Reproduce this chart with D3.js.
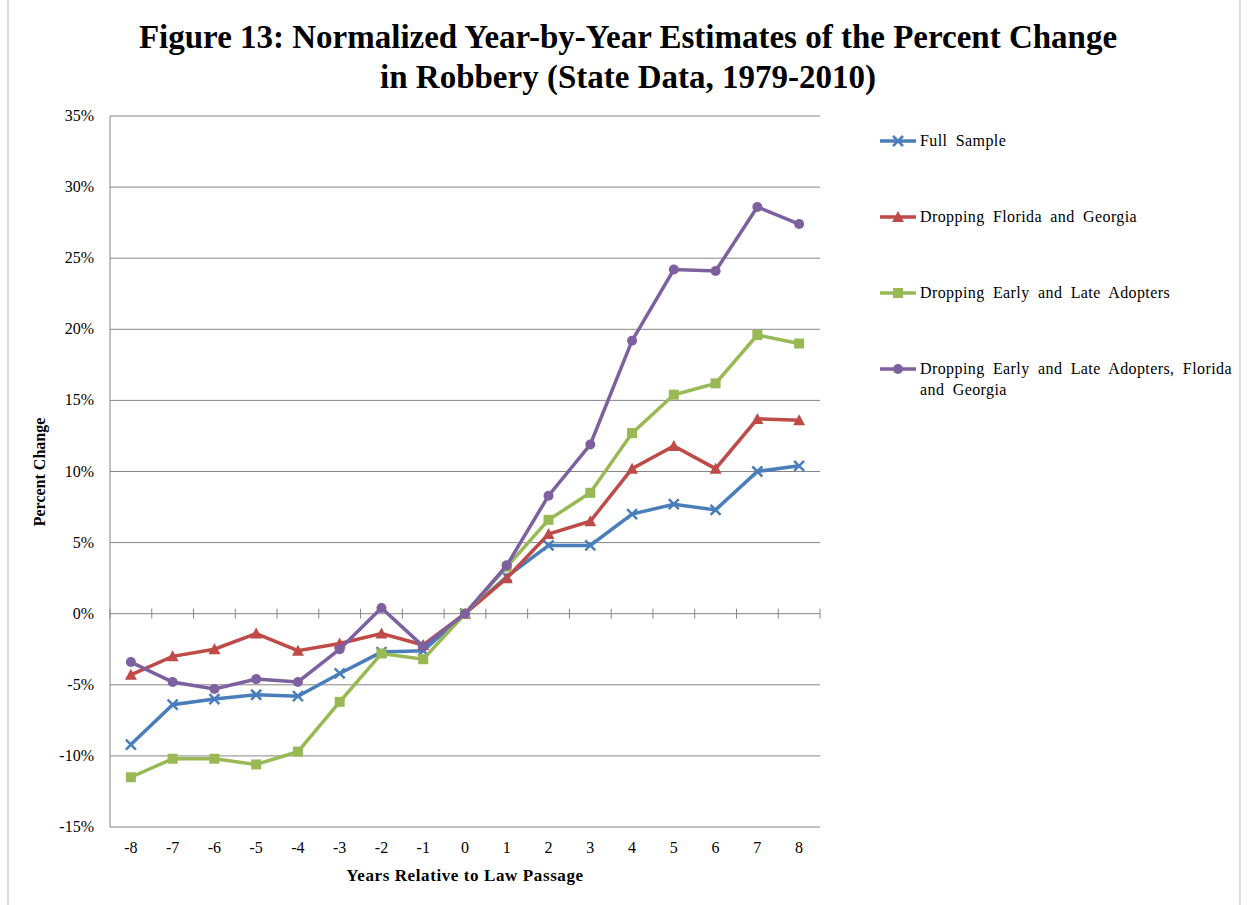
<!DOCTYPE html><html><head><meta charset="utf-8"><script src="https://cdn.jsdelivr.net/npm/d3@7"></script>
<style>body{margin:0;background:#fff}text{font-family:"Liberation Serif",serif}</style></head><body><svg width="1247" height="905"></svg>
<script>
const years=[-8,-7,-6,-5,-4,-3,-2,-1,0,1,2,3,4,5,6,7,8];
const seriesNames=["Full Sample","Dropping Florida and Georgia","Dropping Early and Late Adopters","Dropping Early and Late Adopters, Florida and Georgia"];
const fullSample=[-9.2,-6.4,-6.0,-5.7,-5.8,-4.2,-2.7,-2.6,0,2.6,4.8,4.8,7.0,7.7,7.3,10.0,10.4];
const dropFG=[-4.3,-3.0,-2.5,-1.4,-2.6,-2.1,-1.4,-2.2,0,2.5,5.6,6.5,10.2,11.8,10.2,13.7,13.6];
const dropEL=[-11.5,-10.2,-10.2,-10.6,-9.7,-6.2,-2.8,-3.2,0,3.3,6.6,8.5,12.7,15.4,16.2,19.6,19.0];
const dropELFG=[-3.4,-4.8,-5.3,-4.6,-4.8,-2.5,0.4,-2.3,0,3.4,8.3,11.9,19.2,24.2,24.1,28.6,27.4];
const yTicks=[-15,-10,-5,0,5,10,15,20,25,30,35];
const colors=["#4a7ebb","#be4b48","#98b954","#7d60a0"];
const symbols=["x","tri","sq","circ"];
const allSeries=[fullSample,dropFG,dropEL,dropELFG];
const svg=d3.select("svg");
svg.append("rect").attr("x",8).attr("y",-2).attr("width",1232).attr("height",910).attr("fill","none").attr("stroke","#bbb");
const L=110,R=820,T=116,B=827;
const x=d3.scaleBand().domain(years).range([L,R]);
const y=d3.scaleLinear().domain([-15,35]).range([B,T]);
svg.append("g").selectAll("line").data(yTicks).join("line").attr("x1",L).attr("x2",R).attr("y1",d=>y(d)).attr("y2",d=>y(d)).attr("stroke","#868686");
svg.append("line").attr("x1",L).attr("x2",L).attr("y1",T).attr("y2",B).attr("stroke","#868686");
svg.append("g").selectAll("text").data(yTicks).join("text").attr("x",L-16).attr("y",d=>y(d)+5).attr("text-anchor","end").attr("font-size",16).text(d=>d+"%");
const bounds=years.map(d=>x(d)).concat([R]);
svg.append("g").selectAll("line").data(bounds).join("line").attr("x1",d=>d).attr("x2",d=>d).attr("y1",y(0)-5).attr("y2",y(0)+5).attr("stroke","#868686");
svg.append("g").selectAll("text").data(years).join("text").attr("x",d=>x(d)+x.bandwidth()/2).attr("y",853).attr("text-anchor","middle").attr("font-size",16).text(d=>d);
svg.append("text").attr("x",465).attr("y",881).attr("text-anchor","middle").attr("font-size",17).attr("letter-spacing",0.6).attr("font-weight","bold").text("Years Relative to Law Passage");
svg.append("text").attr("transform","translate(45,472) rotate(-90)").attr("text-anchor","middle").attr("font-size",16).attr("font-weight","bold").text("Percent Change");
svg.append("text").attr("x",628).attr("y",48).attr("text-anchor","middle").attr("font-size",33).attr("font-weight","bold").text("Figure 13: Normalized Year-by-Year Estimates of the Percent Change");
svg.append("text").attr("x",628).attr("y",88).attr("text-anchor","middle").attr("font-size",33).attr("font-weight","bold").text("in Robbery (State Data, 1979-2010)");
function marker(g,cx,cy,s,c){
 if(s==="x"){g.append("path").attr("d",`M${cx-5},${cy-5}L${cx+5},${cy+5}M${cx-5},${cy+5}L${cx+5},${cy-5}`).attr("stroke",c).attr("stroke-width",2.5);}
 else if(s==="tri"){g.append("path").attr("d",`M${cx},${cy-6}L${cx+6},${cy+5}L${cx-6},${cy+5}Z`).attr("fill",c);}
 else if(s==="sq"){g.append("rect").attr("x",cx-5).attr("y",cy-5).attr("width",10).attr("height",10).attr("fill",c);}
 else g.append("circle").attr("cx",cx).attr("cy",cy).attr("r",5).attr("fill",c);
}
const line=d3.line().x((d,i)=>x(years[i])+x.bandwidth()/2).y(d=>y(d));
allSeries.forEach((s,k)=>{
 const g=svg.append("g");
 g.append("path").attr("d",line(s)).attr("fill","none").attr("stroke",colors[k]).attr("stroke-width",3.5);
 s.forEach((v,i)=>marker(g,x(years[i])+x.bandwidth()/2,y(v),symbols[k],colors[k]));
});
const ly=[141,217,293,369];
seriesNames.forEach((n,k)=>{
 const g=svg.append("g");
 g.append("line").attr("x1",880).attr("x2",916).attr("y1",ly[k]).attr("y2",ly[k]).attr("stroke",colors[k]).attr("stroke-width",3.5);
 marker(g,898,ly[k],symbols[k],colors[k]);
 const t=g.append("text").attr("x",920).attr("y",ly[k]+5).attr("font-size",16).attr("letter-spacing",0.4).attr("word-spacing",4);
 if(k===3){t.append("tspan").text("Dropping Early and Late Adopters, Florida");t.append("tspan").attr("x",920).attr("dy",21).text("and Georgia");}
 else t.text(n);
});
</script></body></html>
